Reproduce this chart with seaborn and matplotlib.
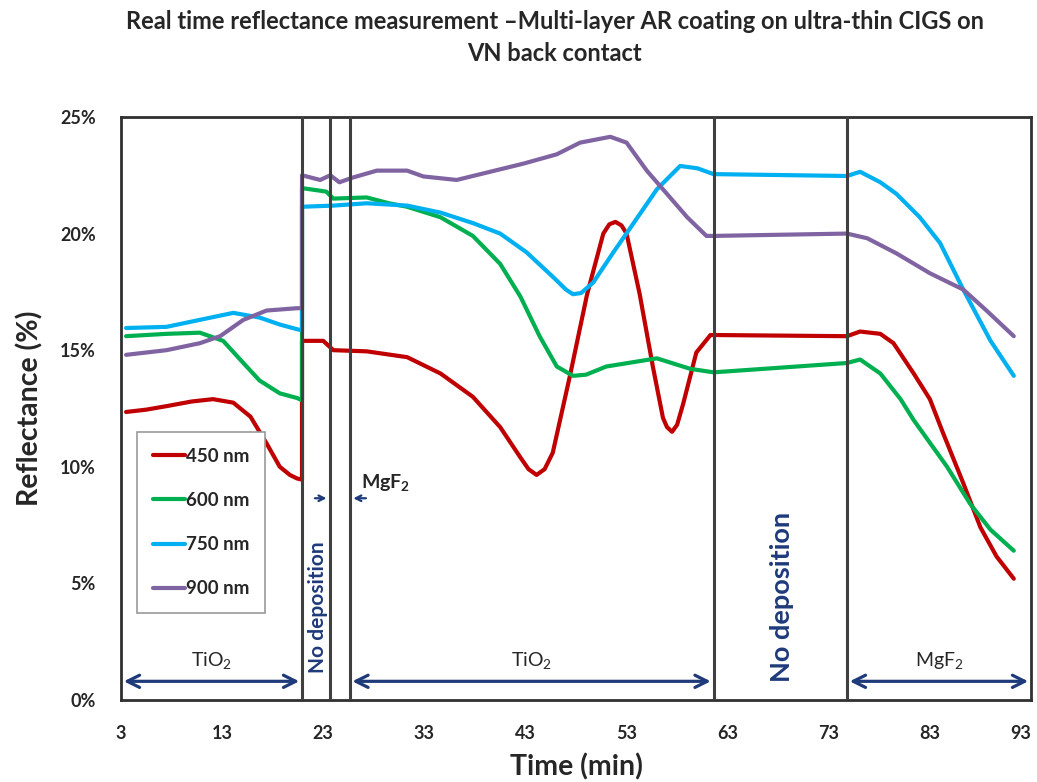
import pandas as pd
import seaborn as sns
import matplotlib.pyplot as plt

# reflectance traces (time in min, reflectance in %)
t_450 = [3.5, 5.5, 7.5, 10, 12.1, 14.1, 15.8, 17.4, 18.7, 19.7, 20.4, 20.9, 20.9, 23.0, 24.0, 27.3,
         31.3, 34.6, 37.8, 40.5, 42.5, 43.3, 44.1, 44.9, 45.7, 47.4, 49.1, 50.7, 51.3, 51.9, 52.5,
         53.0, 54.3, 55.6, 56.6, 57.0, 57.5, 58.0, 58.6, 59.9, 61.3, 61.6, 74.8, 76.1, 78.1, 79.4,
         81.4, 83.0, 84.3, 86.3, 88.0, 89.6, 91.3]
r_450 = [12.35, 12.45, 12.6, 12.8, 12.9, 12.75, 12.15, 11.0, 10.0, 9.65, 9.5, 9.45, 15.4, 15.4, 15.0, 14.95,
         14.7, 14.0, 13.0, 11.7, 10.4, 9.9, 9.65, 9.9, 10.6, 13.9, 17.4, 20.0, 20.4, 20.5, 20.35,
         20.0, 17.4, 14.3, 12.1, 11.7, 11.5, 11.8, 12.7, 14.9, 15.65, 15.65, 15.6, 15.8, 15.7, 15.3,
         14.0, 12.9, 11.45, 9.3, 7.4, 6.15, 5.2]

t_600 = [3.5, 7.5, 10.8, 13.1, 15.1, 16.7, 18.7, 20.4, 20.9, 20.9, 23.3, 24.0, 27.3, 29.5, 31.3,
         34.6, 37.8, 40.5, 42.5, 44.4, 46.1, 47.7, 49.0, 51.0, 56.0, 59.3, 61.6, 74.8, 76.1, 78.1,
         80.1, 81.4, 84.7, 87.0, 89.0, 91.3]
r_600 = [15.6, 15.7, 15.75, 15.4, 14.45, 13.7, 13.15, 12.95, 12.85, 21.95, 21.8, 21.5, 21.55, 21.3, 21.15,
         20.7, 19.9, 18.7, 17.3, 15.6, 14.3, 13.9, 13.95, 14.3, 14.65, 14.2, 14.05, 14.45, 14.6, 14.0,
         12.9, 12.0, 10.0, 8.4, 7.3, 6.4]

t_750 = [3.5, 7.5, 10.8, 14.1, 16.7, 18.7, 20.4, 20.9, 20.9, 24.0, 27.3, 31.3, 34.6, 37.8, 40.5,
         43.1, 45.7, 47.0, 47.7, 48.5, 49.7, 51.7, 53.7, 56.0, 58.3, 60.0, 61.6, 74.8, 76.1, 78.1,
         79.7, 82.0, 84.0, 86.3, 89.0, 91.3]
r_750 = [15.95, 16.0, 16.3, 16.6, 16.4, 16.1, 15.9, 15.85, 21.15, 21.2, 21.3, 21.2, 20.9, 20.45, 20.0,
         19.2, 18.15, 17.6, 17.4, 17.45, 17.9, 19.2, 20.45, 21.9, 22.9, 22.8, 22.55, 22.47, 22.65, 22.2,
         21.7, 20.7, 19.6, 17.6, 15.4, 13.9]

t_900 = [3.5, 7.5, 10.8, 12.8, 15.1, 17.4, 20.4, 20.9, 20.9, 22.7, 23.7, 24.6, 25.9, 28.3, 31.3,
         32.9, 36.2, 39.5, 42.8, 46.1, 48.4, 51.4, 53.0, 55.0, 57.0, 59.0, 60.9, 61.6, 74.8, 76.8,
         79.7, 83.0, 86.3, 88.6, 91.3]
r_900 = [14.8, 15.0, 15.3, 15.6, 16.3, 16.7, 16.8, 16.8, 22.5, 22.3, 22.5, 22.2, 22.4, 22.7, 22.7,
         22.45, 22.3, 22.65, 23.0, 23.4, 23.9, 24.15, 23.9, 22.7, 21.7, 20.7, 19.9, 19.9, 20.0, 19.8,
         19.15, 18.3, 17.6, 16.7, 15.6]

labels = ['450 nm', '600 nm', '750 nm', '900 nm']
colors = ['#C00000', '#00B050', '#00B0F0', '#8064A2']
boundaries = [20.9, 23.7, 25.6, 61.6, 74.8]
xticks = [3, 13, 23, 33, 43, 53, 63, 73, 83, 93]
yticks = [0, 5, 10, 15, 20, 25]

frames = []
for lab, t, r in zip(labels, [t_450, t_600, t_750, t_900], [r_450, r_600, r_750, r_900]):
    frames.append(pd.DataFrame({'time': t, 'refl': r, 'wl': lab}))
df = pd.concat(frames, ignore_index=True)

sns.set_style('white')
plt.rcParams['font.family'] = ['Lato', 'DejaVu Sans']
plt.rcParams['mathtext.fontset'] = 'custom'
plt.rcParams['mathtext.rm'] = 'Lato'
plt.rcParams['mathtext.bf'] = 'Lato:bold'

navy = '#1F3A7A'
fig = plt.figure(figsize=(10.37, 7.82), dpi=100)
ax = fig.add_axes([0.1167, 0.1049, 0.8775, 0.7455])

sns.lineplot(data=df, x='time', y='refl', hue='wl', palette=colors, sort=False,
             estimator=None, units='wl', lw=3, ax=ax)

for b in boundaries:
    ax.axvline(b, color='#404040', lw=2.2, zorder=5)

ax.set_xlim(3, 93)
ax.set_ylim(0, 25)
ax.set_xticks(xticks)
ax.set_yticks(yticks)
ax.set_yticklabels([f'{v}%' for v in yticks])
ax.tick_params(axis='both', labelsize=13, length=4, color='#999999', direction='out', pad=14)
for lb in ax.get_xticklabels() + ax.get_yticklabels():
    lb.set_fontweight('bold')
ax.get_xticklabels()[-1].set_horizontalalignment('right')
for s in ax.spines.values():
    s.set_color('#303030')
    s.set_linewidth(2)
ax.set_xlabel('Time (min)', fontsize=20.5, fontweight='bold', labelpad=8)
ax.set_ylabel('Reflectance (%)', fontsize=20.5, fontweight='bold', labelpad=12)

fig.suptitle('Real time reflectance measurement \u2013Multi-layer AR coating on ultra-thin CIGS on\nVN back contact',
             fontsize=17, fontweight='bold', y=0.987, x=0.535, linespacing=1.45)

# layer arrows along the bottom
arrow = dict(arrowstyle='<->', color=navy, lw=2.3, mutation_scale=22)
for x0, x1, txt in [(3, 20.9, 'TiO$_2$'), (25.6, 61.6, 'TiO$_2$'), (74.8, 93, 'MgF$_2$')]:
    ax.annotate('', xy=(x0, 0.8), xytext=(x1, 0.8), arrowprops=arrow, zorder=6)
    ax.text((x0 + x1) / 2, 1.2, txt, ha='center', va='bottom', fontsize=14)

ax.text(22.5, 4.0, 'No deposition', rotation=90, ha='center', va='center',
        color=navy, fontsize=15, fontweight='bold')
ax.text(68.4, 4.4, 'No deposition', rotation=90, ha='center', va='center',
        color=navy, fontsize=19.5, fontweight='bold')
small = dict(arrowstyle='->', color=navy, lw=1.6, mutation_scale=10)
ax.annotate('', xy=(23.6, 8.65), xytext=(21.9, 8.65), arrowprops=small)
ax.annotate('', xy=(25.7, 8.65), xytext=(27.5, 8.65), arrowprops=small)
ax.text(26.7, 9.3, r'MgF$_\mathbf{2}$', ha='left', va='center', fontsize=14, fontweight='bold')

handles, _ = ax.get_legend_handles_labels()
leg = ax.legend(handles, labels, loc='upper left', bbox_to_anchor=(0.0176, 0.46),
                borderaxespad=0, fancybox=False, edgecolor='#999999', framealpha=1,
                labelspacing=1.45, handlelength=1.7, handletextpad=0.05,
                borderpad=0.85, prop={'weight': 'bold', 'size': 13.5})
leg.get_frame().set_linewidth(1.2)

fig.savefig('out.png', dpi=100)
